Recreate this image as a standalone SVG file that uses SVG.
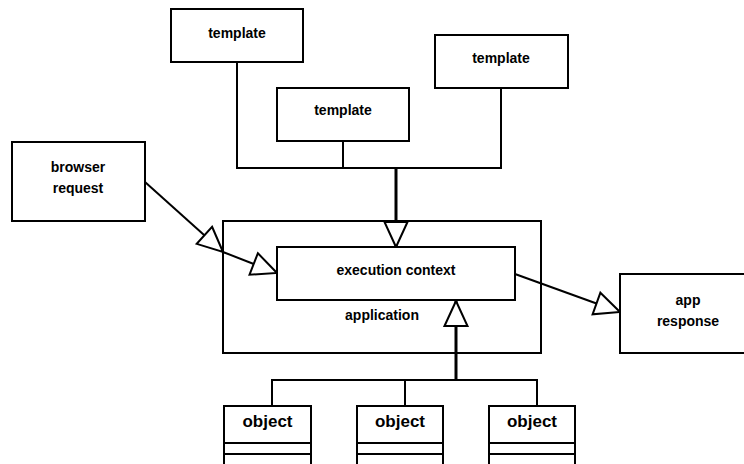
<svg xmlns="http://www.w3.org/2000/svg" width="744" height="464" viewBox="0 0 744 464">
<style>
.box{fill:#fff;stroke:#000;stroke-width:2}
.t{font-family:"Liberation Sans",Arial,sans-serif;font-weight:bold;font-size:14px;text-anchor:middle;fill:#000}
.ob{font-size:17px}
.c{fill:none;stroke:#000;stroke-width:2}
.thick{stroke-width:3}
</style>
<defs>
<marker id="tri" markerUnits="userSpaceOnUse" markerWidth="30" markerHeight="30" refX="25" refY="11.5" orient="auto" overflow="visible">
<path d="M0,0 L25,11.5 L0,23 Z" fill="#fff" stroke="#000" stroke-width="2"/>
</marker>
</defs>
<rect width="744" height="464" fill="#fff"/>
<g id="application">
<rect class="box" x="223" y="221" width="318" height="132"/>
<text class="t" x="382" y="320">application</text>
</g>
<g id="connectors">
<polyline class="c" points="237,62 237,168 501,168 501,88"/>
<line class="c" x1="343" y1="141" x2="343" y2="168"/>
<line class="c thick" x1="396" y1="168" x2="396" y2="247" marker-end="url(#tri)"/>
<line class="c" x1="145" y1="182" x2="223" y2="252" marker-end="url(#tri)"/>
<line class="c" x1="223" y1="252" x2="277" y2="273" marker-end="url(#tri)"/>
<line class="c" x1="515" y1="274" x2="620" y2="312" marker-end="url(#tri)"/>
<polyline class="c" points="272,406 272,380 537,380 537,406"/>
<line class="c" x1="405" y1="380" x2="405" y2="406"/>
<line class="c thick" x1="456" y1="380" x2="456" y2="301" marker-end="url(#tri)"/>
</g>
<g id="template1">
<rect class="box" x="171" y="9" width="132" height="53"/>
<text class="t" x="237" y="38">template</text>
</g>
<g id="template2">
<rect class="box" x="277" y="88" width="132" height="53"/>
<text class="t" x="343" y="115">template</text>
</g>
<g id="template3">
<rect class="box" x="435" y="35" width="133" height="53"/>
<text class="t" x="501" y="63">template</text>
</g>
<g id="browser">
<rect class="box" x="12" y="142" width="133" height="79"/>
<text class="t" x="78" y="172">browser</text>
<text class="t" x="78" y="193">request</text>
</g>
<g id="exec">
<rect class="box" x="277" y="247" width="238" height="53"/>
<text class="t" x="396" y="275">execution context</text>
</g>
<g id="response">
<rect class="box" x="620" y="274" width="130" height="79"/>
<text class="t" x="688" y="305">app</text>
<text class="t" x="688" y="326">response</text>
</g>
<g id="object1">
<rect class="box" x="224" y="406" width="87" height="62"/>
<line class="c" x1="224" y1="443" x2="311" y2="443"/>
<line class="c" x1="224" y1="454" x2="311" y2="454"/>
<text class="t ob" x="267.5" y="427">object</text>
</g>
<g id="object2">
<rect class="box" x="357" y="406" width="86" height="62"/>
<line class="c" x1="357" y1="443" x2="443" y2="443"/>
<line class="c" x1="357" y1="454" x2="443" y2="454"/>
<text class="t ob" x="400" y="427">object</text>
</g>
<g id="object3">
<rect class="box" x="489" y="406" width="86" height="62"/>
<line class="c" x1="489" y1="443" x2="575" y2="443"/>
<line class="c" x1="489" y1="454" x2="575" y2="454"/>
<text class="t ob" x="532" y="427">object</text>
</g>
</svg>
